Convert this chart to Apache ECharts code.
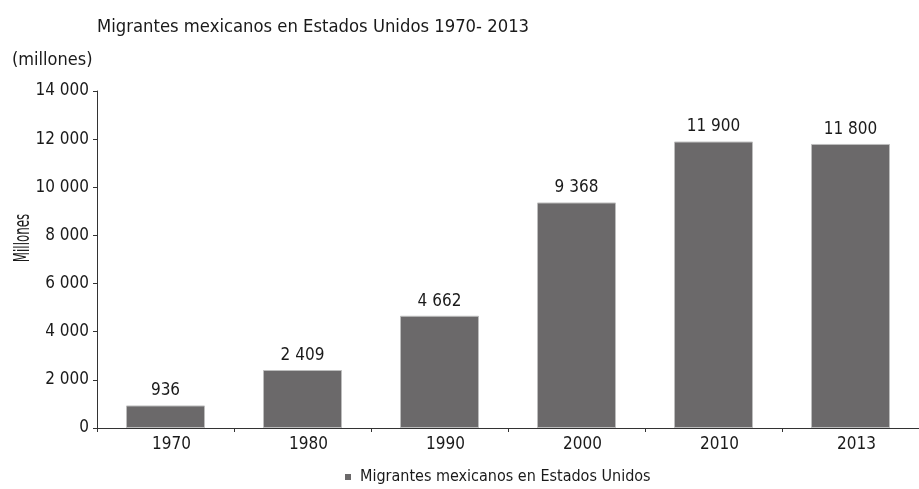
<!DOCTYPE html>
<html>
<head>
<meta charset="utf-8">
<script src="https://cdn.jsdelivr.net/npm/echarts@6/dist/echarts.min.js"></script>
<style>
html,body{margin:0;padding:0;background:#fff;}
#chart{width:919px;height:489px;}
</style>
</head>
<body>
<div id="chart"></div>
<script>
const categories = ['1970', '1980', '1990', '2000', '2010', '2013'];
const migrantes = [936, 2409, 4662, 9368, 11900, 11800];
const seriesName = 'Migrantes mexicanos en Estados Unidos';
const titleText = 'Migrantes mexicanos en Estados Unidos 1970- 2013';
const subtitleText = '(millones)';
const yAxisName = 'Millones';

const FONT = '"DejaVu Sans Condensed", "Liberation Sans Narrow", sans-serif';
const fmt = v => String(v).replace(/\B(?=(\d{3})+(?!\d))/g, ' ');

const chart = echarts.init(document.getElementById('chart'), null, {renderer: 'canvas'});
chart.setOption({
  animation: false,
  backgroundColor: '#fff',
  textStyle: {fontFamily: FONT, color: '#1a1a1a'},
  title: [
    {text: titleText, left: 92, top: 13, textStyle: {fontFamily: FONT, fontSize: 18.3, fontWeight: 'normal', color: '#1a1a1a'}},
    {text: subtitleText, left: 7, top: 46, textStyle: {fontFamily: FONT, fontSize: 18, fontWeight: 'normal', color: '#1a1a1a'}}
  ],
  legend: {
    bottom: -1, left: 340,
    itemWidth: 6, itemHeight: 6, itemGap: 6,
    icon: 'rect',
    itemStyle: {borderWidth: 0, color: '#6b696a'},
    textStyle: {fontFamily: FONT, fontSize: 16, color: '#1a1a1a', padding: [0, 0, 0, 4]},
    data: [seriesName]
  },
  graphic: [{
    type: 'text',
    x: 23, y: 238, rotation: Math.PI / 2, scaleX: 0.6,
    style: {text: yAxisName, fontFamily: FONT, fontSize: 22, fill: '#1a1a1a', align: 'center', verticalAlign: 'middle'}
  }],
  grid: {left: 97, top: 91, width: 833, height: 337},
  xAxis: {
    type: 'category',
    data: categories,
    axisLine: {lineStyle: {color: '#333', width: 1}},
    axisTick: {show: true, length: 4, lineStyle: {color: '#333'}},
    axisLabel: {fontFamily: FONT, fontSize: 17, color: '#1a1a1a', margin: 8, padding: [0, 0, 0, 12]}
  },
  yAxis: {
    type: 'value',
    min: 0, max: 14000, interval: 2000,
    axisLine: {show: true, lineStyle: {color: '#333', width: 1}},
    axisTick: {show: true, length: 4, lineStyle: {color: '#333'}},
    splitLine: {show: false},
    axisLabel: {fontFamily: FONT, fontSize: 17, color: '#1a1a1a', margin: 8, formatter: v => fmt(v)}
  },
  series: [{
    name: seriesName,
    type: 'bar',
    data: migrantes,
    barWidth: 79,
    itemStyle: {color: '#6b696a', borderColor: '#bdbdbd', borderWidth: 1},
    label: {show: true, position: 'top', distance: 6, fontFamily: FONT, fontSize: 17, color: '#1a1a1a', formatter: p => fmt(p.value)}
  }]
});
</script>
</body>
</html>
